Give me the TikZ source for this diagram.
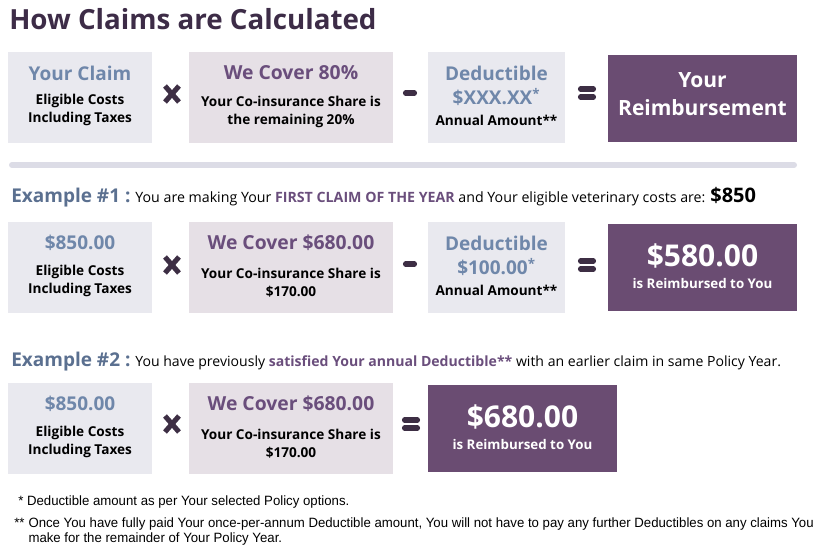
\documentclass[tikz,border=0pt]{standalone}
\usepackage{fontspec}
\setmainfont{Open Sans}
\newfontfamily\notefont[FakeStretch=0.98]{Liberation Sans}
\usetikzlibrary{positioning}

\definecolor{titlepurple}{HTML}{3D2C47}
\definecolor{boxgrey}{HTML}{E9E9EF}
\definecolor{boxmauve}{HTML}{E6E0E6}
\definecolor{slateblue}{HTML}{6F87AA}
\definecolor{exblue}{HTML}{5B7090}
\definecolor{plumtext}{HTML}{6A4E7C}
\definecolor{plum}{HTML}{6A4C72}
\definecolor{opdark}{HTML}{3D2E44}
\definecolor{rulegrey}{HTML}{DCDCE6}

\begin{document}
\begin{tikzpicture}
	[x=0.75pt,y=-0.75pt,
	 pbox/.style 2 args={minimum width=#1*0.75pt, minimum height=#2*0.75pt, inner sep=0pt},
	 greybox/.style={fill=boxgrey},
	 mauvebox/.style={fill=boxmauve},
	 plumbox/.style={fill=plum},
	 headb/.style={inner sep=0pt, text=slateblue, font=\fontsize{14.25pt}{16pt}\selectfont\bfseries},
	 headp/.style={inner sep=0pt, text=plumtext, font=\fontsize{14.5pt}{16pt}\selectfont\bfseries},
	 sub/.style={inner sep=0pt, align=center, font=\fontsize{10.2pt}{13.5pt}\selectfont\bfseries},
	 bigwhite/.style={inner sep=0pt, text=white, font=\fontsize{22.5pt}{24pt}\selectfont\bfseries},
	 smallwhite/.style={inner sep=0pt, text=white, font=\fontsize{10pt}{12pt}\selectfont\bfseries},
	 oper/.style={draw=opdark, line width=3.8pt},
	 exline/.style={anchor=west, inner sep=0pt, font=\fontsize{10.65pt}{12pt}\selectfont},
	 note/.style={anchor=west, inner sep=0pt, align=left, font=\notefont\fontsize{10.1pt}{12pt}\selectfont}]
	\useasboundingbox (0,0) rectangle (840,552);

	\node[anchor=west, inner sep=0pt, text=titlepurple, font=\fontsize{20.8pt}{22pt}\selectfont\bfseries] (title) at (9,19) {How Claims are Calculated};

	% formula
	\node[greybox, pbox={144}{91}] (claim) at (80,97.5) {};
	\node[mauvebox, pbox={204}{91}] (cover) at (291,97.5) {};
	\node[greybox, pbox={137}{91}] (deduct) at (496.5,97.5) {};
	\node[plumbox, pbox={189}{87}] (reimb) at (702.5,98.5) {};
	\node[headb] (claimh) at (80,73) {Your Claim};
	\node[sub] (claims) at (80,110) {Eligible Costs\\Including Taxes};
	\node[headp] (coverh) at (291,73) {We Cover 80\%};
	\node[sub] (covers) at (291,112) {Your Co-insurance Share is\\the remaining 20\%};
	\node[headb] (deducth) at (496.5,73) {Deductible};
	\node[headb] (deductv) at (496.5,97) {\$XXX.XX\textsuperscript{*}};
	\node[sub] (deducts) at (496.5,120) {Annual Amount**};
	\node[inner sep=0pt, text=white, align=center, font=\fontsize{15.75pt}{21pt}\selectfont\bfseries] (reimbt) at (702.5,94) {Your\\Reimbursement};

	\draw[line width=4.5pt, rulegrey, line cap=round] (12,165) -- (794,165);

	% example 1
	\node[exline] (ex1) at (11,197) {{\fontsize{14.25pt}{16pt}\selectfont\bfseries\color{exblue}Example \#1 :} You are making Your {\color{plumtext}\bfseries FIRST CLAIM OF THE YEAR} and Your eligible veterinary costs are: {\fontsize{15pt}{16pt}\selectfont\bfseries \$850}};
	\node[greybox, pbox={144}{91}] (claimA) at (80,267.5) {};
	\node[mauvebox, pbox={204}{91}] (coverA) at (291,267.5) {};
	\node[greybox, pbox={137}{91}] (deductA) at (496.5,267.5) {};
	\node[plumbox, pbox={189}{87}] (reimbA) at (702.5,267.5) {};
	\node[headb] (claimAh) at (80,243) {\$850.00};
	\node[sub] (claimAs) at (80,281) {Eligible Costs\\Including Taxes};
	\node[headp] (coverAh) at (291,243) {We Cover \$680.00};
	\node[sub] (coverAs) at (291,283) {Your Co-insurance Share is\\\$170.00};
	\node[headb] (deductAh) at (496.5,243) {Deductible};
	\node[headb] (deductAv) at (496.5,267) {\$100.00\textsuperscript{*}};
	\node[sub] (deductAs) at (496.5,290) {Annual Amount**};
	\node[bigwhite] (reimbAv) at (702.5,256) {\$580.00};
	\node[smallwhite] (reimbAs) at (702.5,284) {is Reimbursed to You};

	% example 2
	\node[exline, font=\fontsize{10.55pt}{12pt}\selectfont] (ex2) at (11,362) {{\fontsize{14.25pt}{16pt}\selectfont\bfseries\color{exblue}Example \#2 :} You have previously {\color{plumtext}\bfseries satisfied Your annual Deductible**} with an earlier claim in same Policy Year.};
	\node[greybox, pbox={144}{91}] (claimB) at (80,428.5) {};
	\node[mauvebox, pbox={204}{91}] (coverB) at (291,428.5) {};
	\node[plumbox, pbox={189}{87}] (reimbB) at (522.5,428.5) {};
	\node[headb] (claimBh) at (80,404) {\$850.00};
	\node[sub] (claimBs) at (80,442) {Eligible Costs\\Including Taxes};
	\node[headp] (coverBh) at (291,404) {We Cover \$680.00};
	\node[sub] (coverBs) at (291,444) {Your Co-insurance Share is\\\$170.00};
	\node[bigwhite] (reimbBv) at (522.5,417) {\$680.00};
	\node[smallwhite] (reimbBs) at (522.5,445) {is Reimbursed to You};

	% operators
	\foreach \x/\y in {172/94, 172/265, 172/424}
	\draw[oper] (\x-7,\y-8) -- (\x+7,\y+8) (\x-7,\y+8) -- (\x+7,\y-8);
	\foreach \x/\y in {410/93, 410/264}
	\draw[oper, line cap=round] (\x-4.5,\y) -- (\x+4.5,\y);
	\foreach \x/\y in {587/93, 587/265, 411/424}
	\draw[oper, line cap=round] (\x-6.5,\y-4) -- (\x+6.5,\y-4) (\x-6.5,\y+4) -- (\x+6.5,\y+4);

	% notes
	\node[note] (note1) at (18,502) {* Deductible amount as per Your selected Policy options.};
	\node[note, anchor=north west] (note2) at (14,516) {\begin{tabular}{@{}l@{\hspace{3pt}}l@{}}
		** & Once You have fully paid Your once-per-annum Deductible amount, You will not have to pay any further Deductibles on any claims You\\[-1pt]
		& make for the remainder of Your Policy Year.
	\end{tabular}};
\end{tikzpicture}
\end{document}
